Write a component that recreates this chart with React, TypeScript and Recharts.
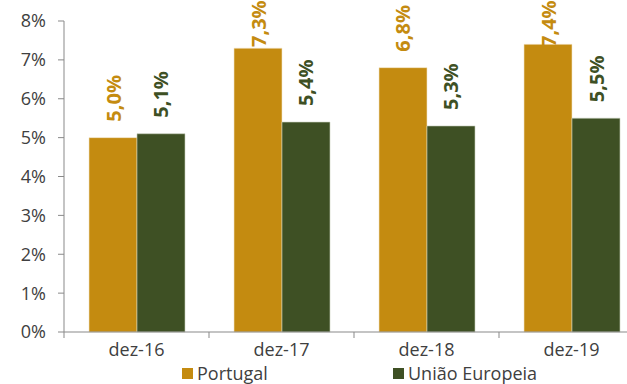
import { BarChart, Bar, XAxis, YAxis, Legend, LabelList } from "recharts";

const categories = ["dez-16", "dez-17", "dez-18", "dez-19"];
const portugal = [5.0, 7.3, 6.8, 7.4];
const uniaoEuropeia = [5.1, 5.4, 5.3, 5.5];
const yTicks = [0, 1, 2, 3, 4, 5, 6, 7, 8];

const GOLD = "#C48B10";
const GREEN = "#3E5024";
const AXIS = "#898989";
const TEXT = "#404040";
const FONT = "'Open Sans', 'Noto Sans', sans-serif";

const data = categories.map((cat, i) => ({
  cat,
  portugal: portugal[i],
  ue: uniaoEuropeia[i],
}));

const fmt = (v: number) => v.toFixed(1).replace(".", ",") + "%";

// vertical value label above the bar; pushed down when it would leave the chart
function makeLabel(color: string) {
  return (props: any) => {
    const { x, y, width, value } = props;
    const cx = x + width / 2;
    const len = 42;
    const bottom = Math.max(y - 16, 5 + len);
    return (
      <text
        x={cx}
        y={bottom}
        transform={`rotate(-90 ${cx} ${bottom})`}
        textAnchor="start"
        dominantBaseline="central"
        fill={color}
        fontFamily={FONT}
        fontWeight="bold"
        fontSize={20}
      >
        {fmt(value)}
      </text>
    );
  };
}

// category label with tick marks between categories
function CategoryTick(props: any) {
  const { x, y, payload } = props;
  const half = 72.5;
  return (
    <g>
      <line x1={x - half} y1={y - 8} x2={x - half} y2={y - 2} stroke={AXIS} />
      <text
        x={x}
        y={y + 16}
        textAnchor="middle"
        fill={TEXT}
        fontFamily={FONT}
        fontSize={18}
      >
        {payload.value}
      </text>
    </g>
  );
}

function LegendContent(props: any) {
  const items = props.payload || [];
  const lefts = [182, 393];
  return (
    <div style={{ position: "relative", height: 22 }}>
      {items.map((item: any, i: number) => (
        <div
          key={item.value}
          style={{
            position: "absolute",
            left: lefts[i],
            top: 3,
            display: "flex",
            alignItems: "center",
            fontFamily: FONT,
            fontSize: 18,
            color: TEXT,
            lineHeight: "17px",
          }}
        >
          <span
            style={{
              display: "inline-block",
              width: 11,
              height: 11,
              background: item.color,
              marginRight: 4,
            }}
          />
          {item.value}
        </div>
      ))}
    </div>
  );
}

export default function App() {
  return (
    <div
      style={{
        position: "absolute",
        left: 0,
        top: 0,
        width: 627,
        height: 384,
        overflow: "hidden",
        background: "#fff",
      }}
    >
      <BarChart
        width={660}
        height={384}
        data={data}
        margin={{ top: 21, right: 16, left: 0, bottom: 0 }}
        barGap={0}
        barSize={48}
      >
        <XAxis
          dataKey="cat"
          height={30}
          stroke={AXIS}
          tickLine={false}
          tick={<CategoryTick />}
          interval={0}
        />
        <YAxis
          domain={[0, 8]}
          ticks={yTicks}
          width={64}
          stroke={AXIS}
          tickSize={6}
          tickMargin={12}
          tickFormatter={(v: number) => `${v}%`}
          tick={{ fill: TEXT, fontFamily: FONT, fontSize: 18 }}
        />
        <Legend
          verticalAlign="bottom"
          height={22}
          content={<LegendContent />}
          wrapperStyle={{ left: 0, width: 660 }}
        />
        <Bar
          dataKey="portugal"
          name="Portugal"
          fill={GOLD}
          stroke="#f3e6c8"
          strokeWidth={0.6}
          isAnimationActive={false}
        >
          <LabelList dataKey="portugal" content={makeLabel(GOLD)} />
        </Bar>
        <Bar
          dataKey="ue"
          name="União Europeia"
          fill={GREEN}
          stroke="#c9d0bd"
          strokeWidth={0.6}
          isAnimationActive={false}
        >
          <LabelList dataKey="ue" content={makeLabel(GREEN)} />
        </Bar>
      </BarChart>
    </div>
  );
}
